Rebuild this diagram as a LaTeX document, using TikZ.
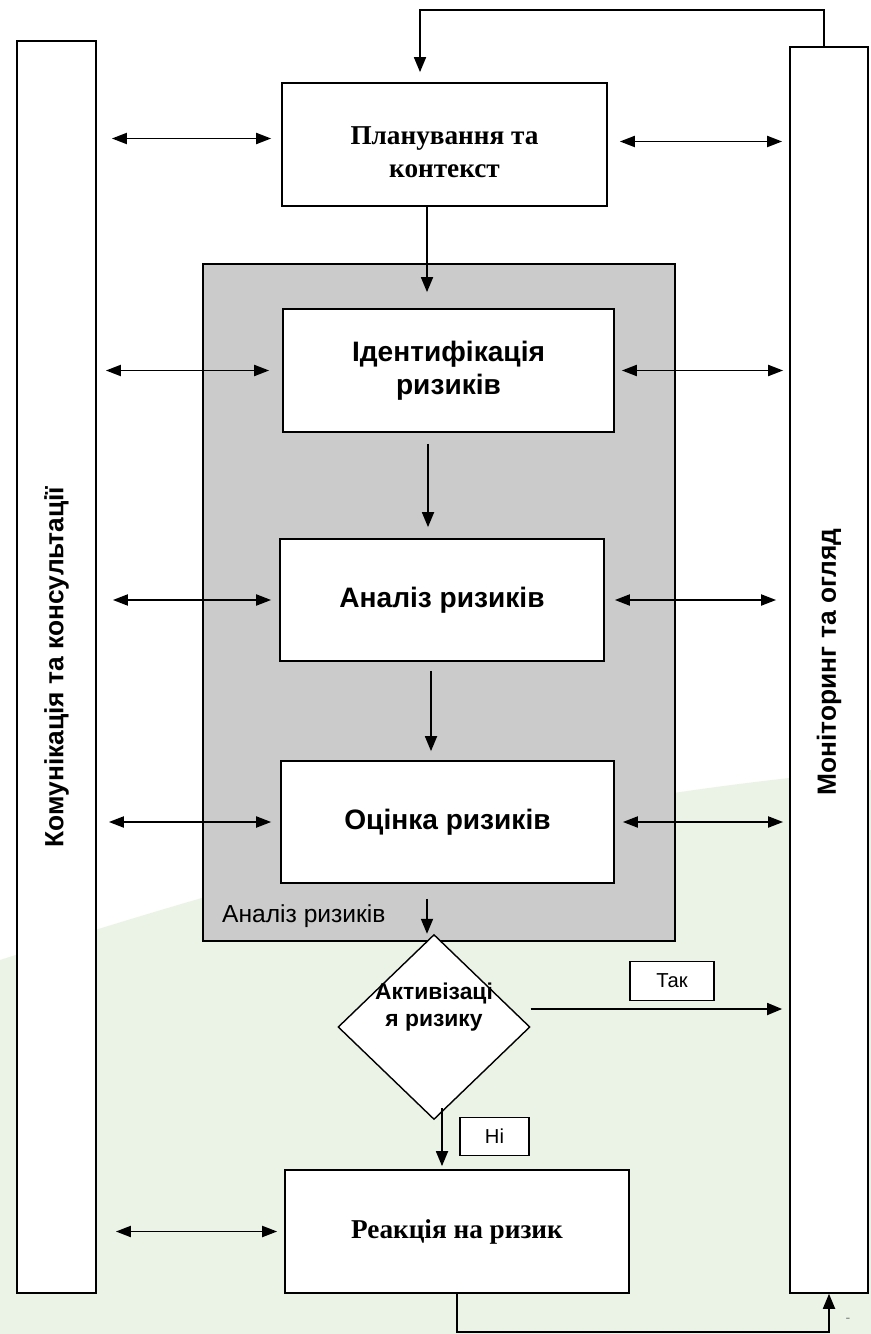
\documentclass[tikz,border=0pt]{standalone}
\usepackage{fontspec}
\setmainfont{Liberation Serif}
\setsansfont{Liberation Sans}
\usetikzlibrary{
  shapes.geometric,
  arrows.meta,
}
\definecolor{groupgray}{RGB}{203,203,203}
\definecolor{slidegreen}{RGB}{235,243,230}
\tikzset{
  stage/.style={
    rectangle,
    draw=black,
    line width=1pt,
    fill=white,
    align=center,
    text centered,
    font=\sffamily\bfseries\fontsize{16}{19}\selectfont
  },
  serifstage/.style={
    stage,
    font=\rmfamily\bfseries\fontsize{15.5}{19}\selectfont
  },
  bar/.style={
    rectangle,
    draw=black,
    line width=1pt,
    fill=white,
    minimum width=1.58cm,
  },
  barlabel/.style={
    font=\sffamily\bfseries\fontsize{15}{18}\selectfont
  },
  group/.style={
    rectangle,
    draw=black,
    line width=1pt,
    fill=groupgray,
  },
  decision/.style={
    diamond,
    draw=black,
    line width=0.8pt,
    fill=white,
    inner sep=0pt,
    minimum width=3.84cm,
    minimum height=3.7cm,
  },
  answer/.style={
    rectangle,
    draw=black,
    line width=0.8pt,
    fill=white,
    minimum height=0.77cm,
    font=\sffamily\fontsize{11.5}{13}\selectfont
  },
  arrow/.style={
    line width=1pt,
    -{Triangle[length=0.3cm, width=0.24cm]},
  },
  twoway/.style={
    line width=1.1pt,
    {Triangle[length=0.3cm, width=0.22cm]}-{Triangle[length=0.3cm, width=0.22cm]},
  },
}

\begin{document}
\begin{tikzpicture}[x=0.02cm, y=-0.02cm]
  \useasboundingbox (0,0) rectangle (871,1334);

  % Background of the slide
  \fill[white] (0,0) rectangle (871,1334);
  \fill[slidegreen] (0,960) .. controls (250,880) and (520,800) .. (871,770)
    -- (871,1334) -- (0,1334) -- cycle;

  % Side bars
  \node (komm) [bar, minimum height=25.04cm,
    label={[rotate=90, barlabel]center:Комунікація та консультації}] at (56.5,667) {};
  \node (monit) [bar, minimum width=1.56cm, minimum height=24.92cm,
    label={[rotate=90, barlabel, xshift=0.16cm]center:Моніторинг та огляд}] at (829,670) {};

  % Group
  \node (grp) [group, minimum width=9.44cm, minimum height=13.54cm] at (439,602.5) {};
  \node (grplabel) [anchor=west, font=\sffamily\fontsize{14}{16}\selectfont] at (216,916) {Аналіз ризиків};

  % Stages
  \node (plan) [serifstage, minimum width=6.5cm, minimum height=2.46cm] at (444.5,144.5) {\rule{0pt}{0.3cm}\\[-0.3cm]Планування та\\контекст};
  \node (ident) [stage, minimum width=6.62cm, minimum height=2.46cm] at (448.5,370.5) {Ідентифікація\\ризиків};
  \node (analiz) [stage, minimum width=6.48cm, minimum height=2.44cm] at (442,600) {Аналіз ризиків};
  \node (otsinka) [stage, minimum width=6.66cm, minimum height=2.44cm] at (447.5,822) {Оцінка ризиків};
  \node (dec) [decision,
    label={[yshift=0.4cm, align=center, font=\sffamily\bfseries\fontsize{13}{15.5}\selectfont]center:Активізаці\\я ризику}] at (434,1027) {};
  \node (reakc) [serifstage, minimum width=6.88cm, minimum height=2.46cm] at (457,1231.5) {Реакція на ризик};

  % Answers
  \node (tak) [answer, minimum width=1.68cm] at (672,981) {Так};
  \node (ni) [answer, minimum width=1.38cm] at (494.5,1136.5) {Ні};
  \node (dash) [font=\sffamily\fontsize{8}{8}\selectfont, text=gray] at (848,1320) {-};

  % Main flow
  \coordinate (loop) at (420,10);
  \draw [arrow, shorten >=0.2cm] ([xshift=-0.1cm]monit.north) |- (loop) -- (loop |- plan.north);
  \draw [arrow, shorten >=0.32cm] ([xshift=-0.35cm]plan.south) -- ([xshift=-0.35cm]plan.south |- ident.north);
  \draw [arrow, shorten <=0.22cm, shorten >=0.22cm] ([xshift=-0.41cm]ident.south) -- ([xshift=-0.41cm]ident.south |- analiz.north);
  \draw [arrow, shorten <=0.18cm, shorten >=0.18cm] ([xshift=-0.22cm]analiz.south) -- ([xshift=-0.22cm]analiz.south |- otsinka.north);
  \draw [arrow, shorten <=0.3cm] ([xshift=-0.41cm]otsinka.south) -- ([xshift=-0.41cm]otsinka.south |- dec.north);
  \draw [arrow, shorten >=0.14cm] ([yshift=0.36cm]dec.east) -- ([yshift=0.36cm]dec.east -| monit.west);
  \draw [arrow, shorten >=0.06cm] ([xshift=0.16cm, yshift=0.24cm]dec.south) -- ([xshift=0.16cm]dec.south |- reakc.north);
  \draw [arrow] (reakc.south) -- ++(0,38) -| (monit.south);

  % Links to the side bars
  \draw [twoway, shorten <=0.3cm, shorten >=0.2cm] ([yshift=0.12cm]komm.east |- plan.west) -- ([yshift=0.12cm]plan.west);
  \draw [twoway, shorten <=0.24cm, shorten >=0.14cm] ([yshift=0.06cm]plan.east) -- ([yshift=0.06cm]plan.east -| monit.west);
  \draw [twoway, shorten <=0.18cm, shorten >=0.26cm] (komm.east |- ident.west) -- (ident.west);
  \draw [twoway, shorten <=0.14cm, shorten >=0.12cm] (ident.east) -- (ident.east -| monit.west);
  \draw [twoway, shorten <=0.32cm, shorten >=0.16cm] (komm.east |- analiz.west) -- (analiz.west);
  \draw [twoway, shorten <=0.2cm, shorten >=0.26cm] (analiz.east) -- (analiz.east -| monit.west);
  \draw [twoway, shorten <=0.24cm, shorten >=0.18cm] (komm.east |- otsinka.west) -- (otsinka.west);
  \draw [twoway, shorten <=0.16cm, shorten >=0.12cm] (otsinka.east) -- (otsinka.east -| monit.west);
  \draw [twoway, shorten <=0.38cm, shorten >=0.14cm] (komm.east |- reakc.west) -- (reakc.west);

\end{tikzpicture}
\end{document}
